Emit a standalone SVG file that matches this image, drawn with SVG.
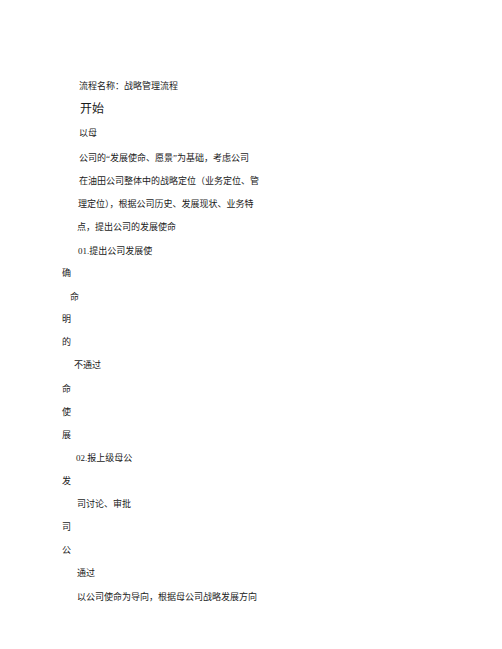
<svg xmlns="http://www.w3.org/2000/svg" width="502" height="649" viewBox="0 0 502 649">
<style>
text{font-family:"Liberation Serif","Noto Sans CJK SC",sans-serif;font-size:9px;fill:#1a1a1a}
.big{font-size:12px}
</style>
<rect width="502" height="649" fill="#ffffff"/>
<text x="79" y="88.5">流程名称：战略管理流程</text>
<text x="80" y="112.5" class="big">开始</text>
<text x="79" y="135.5">以母</text>
<text x="79" y="160.5">公司的“发展使命、愿景”为基础，考虑公司</text>
<text x="79" y="183.5">在油田公司整体中的战略定位（业务定位、管</text>
<text x="78" y="206.5">理定位），根据公司历史、发展现状、业务特</text>
<text x="77" y="229.5">点，提出公司的发展使命</text>
<text x="78" y="253.5">01.提出公司发展使</text>
<text x="62" y="275.5">确</text>
<text x="70" y="299.5">命</text>
<text x="62" y="321.5">明</text>
<text x="62" y="344.5">的</text>
<text x="74" y="367.5">不通过</text>
<text x="62" y="391.5">命</text>
<text x="62" y="414.5">使</text>
<text x="62" y="437.5">展</text>
<text x="76" y="460.5">02.报上级母公</text>
<text x="62" y="483.5">发</text>
<text x="77" y="506.5">司讨论、审批</text>
<text x="62" y="529.5">司</text>
<text x="62" y="552.5">公</text>
<text x="77" y="575.5">通过</text>
<text x="77" y="599.5">以公司使命为导向，根据母公司战略发展方向</text>
</svg>
